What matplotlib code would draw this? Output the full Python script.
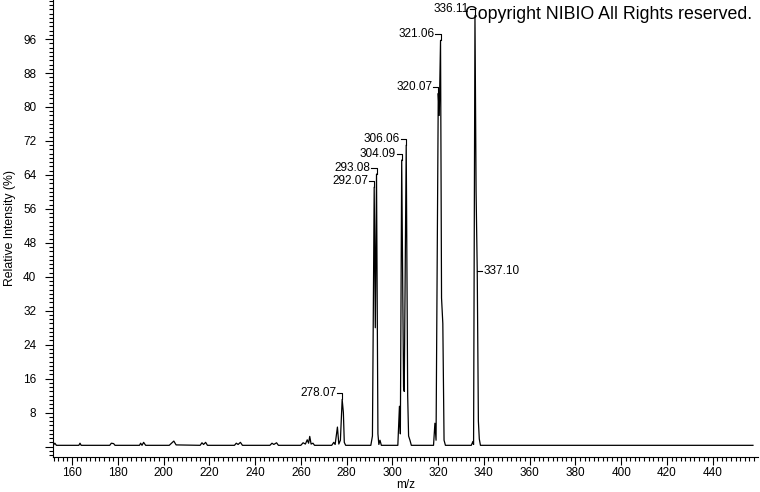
import matplotlib
matplotlib.use("Agg")
import matplotlib.pyplot as plt
from matplotlib.ticker import MultipleLocator

# profile spectrum (m/z, relative intensity %)
baseline_mz = [151.8, 152.5, 153.2, 163.0, 163.5, 164.0, 176.5, 177.2, 178.2, 178.8,
               189.5, 190.0, 190.6, 191.3, 192.2, 202.5, 203.5, 204.5, 205.5,
               216.0, 216.8, 217.5, 218.4, 219.2, 231.0, 231.8, 232.6, 233.6, 234.5,
               246.5, 247.4, 248.2, 249.4, 250.2, 260.0, 261.0, 262.0, 262.8, 263.4,
               263.9, 264.5, 265.3, 266.0, 273.5, 274.4, 275.0]
baseline_int = [0.3, 0.8, 0.3, 0.3, 0.8, 0.3, 0.3, 0.8, 0.7, 0.3,
                0.3, 0.8, 0.3, 1.0, 0.3, 0.3, 0.8, 1.3, 0.4,
                0.3, 0.9, 0.5, 1.0, 0.3, 0.3, 0.8, 0.5, 1.0, 0.3,
                0.3, 0.8, 0.5, 0.9, 0.3, 0.3, 0.9, 0.6, 1.6, 0.8,
                2.4, 0.6, 0.8, 0.3, 0.3, 1.0, 0.5]

peaks_mz = [276.0, 276.6, 277.3, 278.07, 278.6, 279.0, 279.6,
            290.6, 291.3, 292.07, 292.55, 293.08, 293.7, 294.1, 294.6, 295.2,
            302.4, 303.1, 303.5, 304.09, 304.9, 305.2, 306.06, 306.7, 307.1, 307.7, 308.3,
            318.0, 318.6, 319.1, 320.07, 320.5, 321.06, 321.5, 322.06, 322.6, 323.2,
            334.5, 335.2, 335.5, 336.11, 336.6, 337.10, 337.6, 338.0, 338.5, 457.6]
peaks_int = [4.6, 0.6, 1.5, 11.1, 8.0, 1.0, 0.3,
             0.3, 2.5, 61.1, 28.0, 64.2, 3.0, 0.5, 1.5, 0.3,
             0.3, 9.5, 3.0, 67.5, 14.0, 13.0, 71.0, 12.0, 2.5, 1.5, 0.3,
             0.3, 5.5, 1.5, 83.2, 78.0, 95.7, 35.0, 29.0, 1.5, 0.3,
             0.3, 1.2, 0.5, 101.5, 60.0, 41.4, 6.0, 1.8, 0.3, 0.3]

# labelled peaks
left_labels = ["278.07", "292.07", "293.08", "304.09", "306.06", "320.07", "321.06", "336.11"]
left_mz = [278.07, 292.07, 293.08, 304.09, 306.06, 320.07, 321.06, 336.11]
left_int = [11.1, 61.1, 64.2, 67.5, 71.0, 83.2, 95.7, 101.5]
right_labels = ["337.10"]
right_mz = [337.10]
right_int = [41.4]

FONT = "Liberation Sans"
plt.rcParams['font.family'] = [FONT, 'DejaVu Sans']

fig = plt.figure(figsize=(7.6, 4.92), dpi=100)
ax = fig.add_axes([53 / 760, 1 - 457 / 492, 705 / 760, 457 / 492])

mz = baseline_mz + peaks_mz
inten = baseline_int + peaks_int
ax.plot(mz, inten, color="black", lw=0.9)

for txt, m, h in zip(left_labels, left_mz, left_int):
    ly = h + 1.5
    ax.plot([m - 2.2, m, m], [ly, ly, h], color="black", lw=0.8)
    ax.text(m - 2.6, ly, txt, ha="right", va="center", fontsize=8.5)

for txt, m, h in zip(right_labels, right_mz, right_int):
    ax.plot([m, m + 2.2], [h, h], color="black", lw=0.8)
    ax.text(m + 2.6, h, txt, ha="left", va="center", fontsize=8.5)

ax.set_xlim(151.7, 459.8)
ax.set_ylim(-2.45, 105.2)

ax.xaxis.set_major_locator(MultipleLocator(20))
ax.xaxis.set_minor_locator(MultipleLocator(2))
ax.set_yticks([0, 8, 16, 24, 32, 40, 48, 56, 64, 72, 80, 88, 96])
ax.set_yticklabels([""] + [str(v) for v in range(8, 97, 8)])
ax.yaxis.set_minor_locator(MultipleLocator(1))

ax.tick_params(axis="both", which="major", length=6, width=0.8, labelsize=8.5, direction="out")
ax.tick_params(axis="both", which="minor", length=3, width=0.8, direction="out")
ax.tick_params(axis="x", which="major", pad=1)
ax.tick_params(axis="y", which="major", pad=6)

for side in ["top", "right"]:
    ax.spines[side].set_visible(False)
for side in ["left", "bottom"]:
    ax.spines[side].set_linewidth(0.8)

ax.set_xlabel("m/z", fontsize=8.5)
ax.xaxis.set_label_coords(0.5, -0.048)
ax.set_ylabel("Relative Intensity (%)", fontsize=8.8)
ax.yaxis.set_label_coords(-0.0525, 0.5)

fig.text(752 / 760, 1 - 19 / 492, "Copyright NIBIO All Rights reserved.",
         ha="right", va="baseline", fontsize=12.8)

fig.savefig("out.png", dpi=100)
